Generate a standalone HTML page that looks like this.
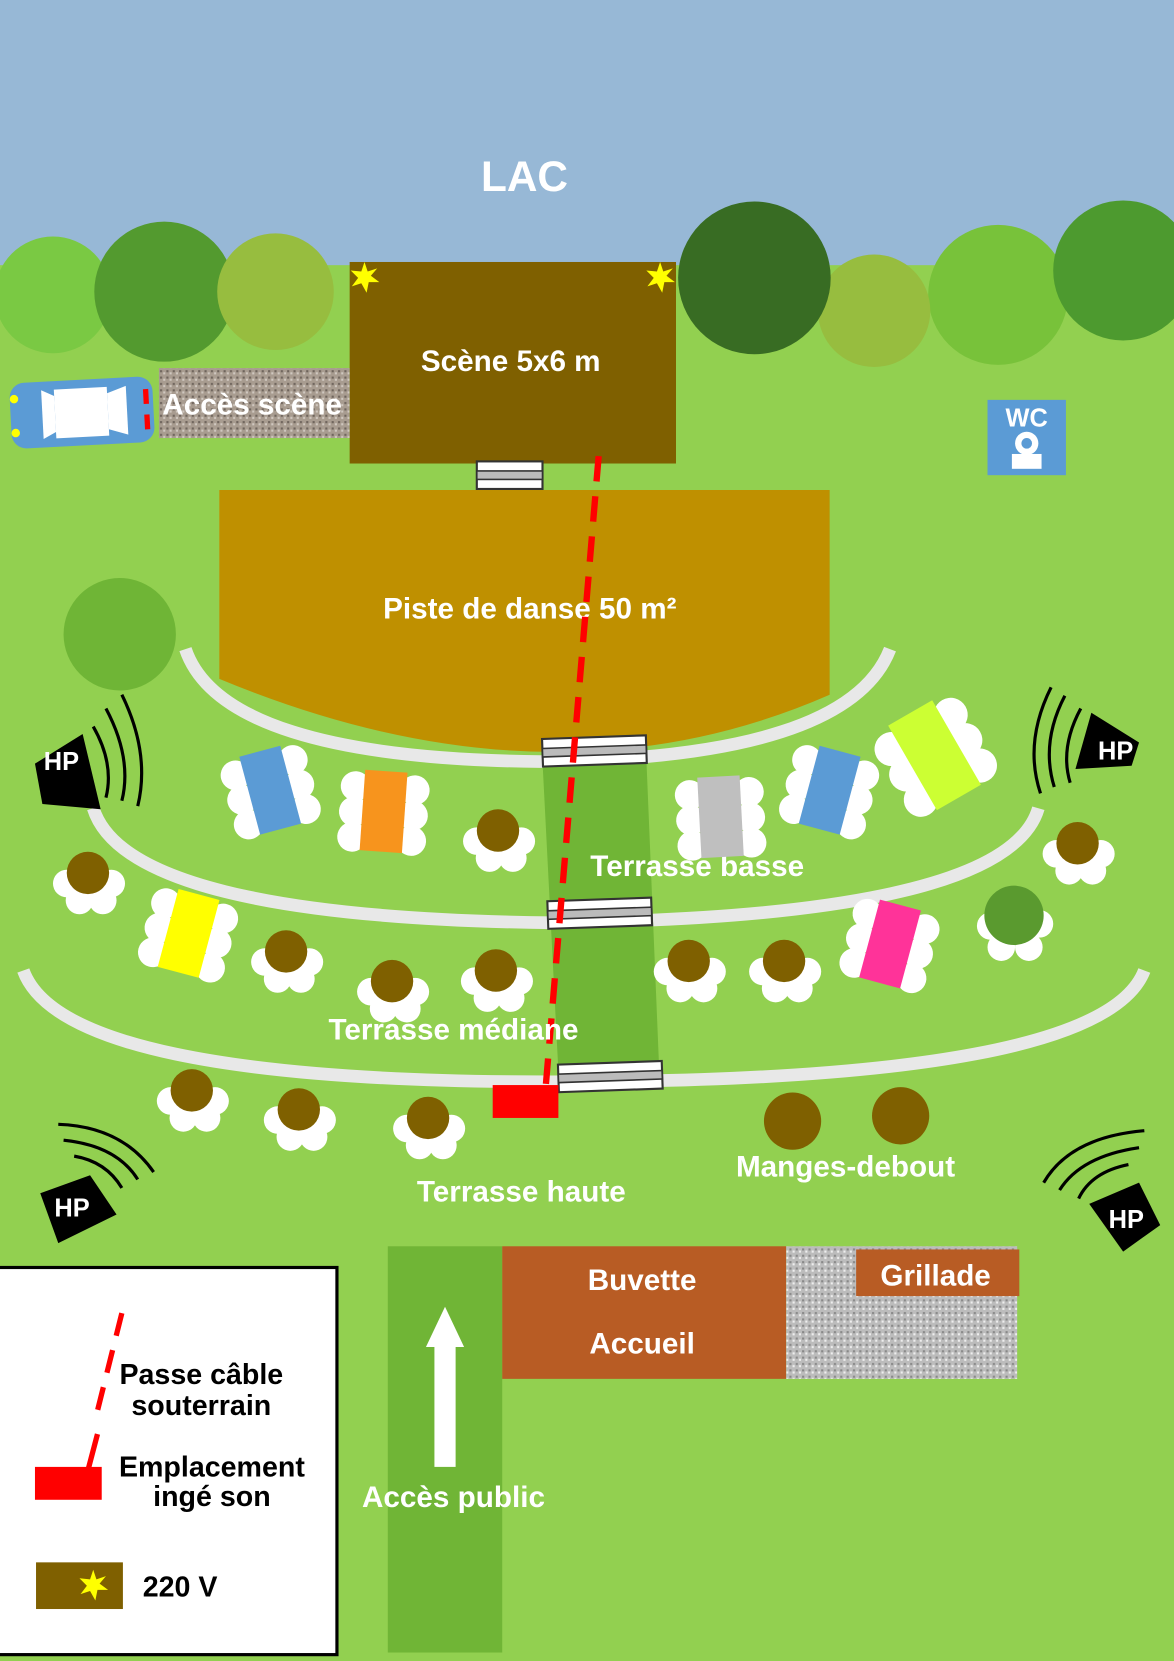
<!DOCTYPE html>
<html><head><meta charset="utf-8"><style>
html,body{margin:0;padding:0;background:#92d050}
svg{display:block}
text{font-family:"Liberation Sans",sans-serif;font-weight:bold}
</style></head><body>
<svg width="1174" height="1661" viewBox="0 0 1108 1566" preserveAspectRatio="none" xmlns="http://www.w3.org/2000/svg">
<defs>
<g id="rt"><circle cx="-20" cy="10" r="13" fill="#fff"/><circle cx="22" cy="10" r="13" fill="#fff"/><circle cx="-8" cy="26" r="13" fill="#fff"/><circle cx="14" cy="26" r="13" fill="#fff"/><circle cx="0" cy="0" r="20" fill="#7f6000"/></g>
<g id="ch"><circle cx="-28" cy="-22" r="14" fill="#fff"/><circle cx="-28" cy="2" r="14" fill="#fff"/><circle cx="-28" cy="26" r="14" fill="#fff"/><circle cx="28" cy="-22" r="14" fill="#fff"/><circle cx="28" cy="2" r="14" fill="#fff"/><circle cx="28" cy="26" r="14" fill="#fff"/></g>
<g id="br"><rect x="0" y="0" width="62" height="26" fill="#fff" stroke="#333" stroke-width="2"/><rect x="0" y="9" width="62" height="8" fill="#bbb" stroke="#333" stroke-width="1.5"/></g>
<g id="br2"><rect x="0" y="0" width="98" height="26" fill="#fff" stroke="#333" stroke-width="2"/><rect x="0" y="9" width="98" height="8" fill="#bbb" stroke="#333" stroke-width="1.5"/></g>
<pattern id="grav" width="6" height="6" patternUnits="userSpaceOnUse"><rect width="6" height="6" fill="#a89c90"/><rect x="1" y="1" width="2" height="2" fill="#6e645c"/><rect x="4" y="3" width="2" height="2" fill="#d0c8c0"/></pattern>
<pattern id="grav2" width="6" height="6" patternUnits="userSpaceOnUse"><rect width="6" height="6" fill="#bcbcbc"/><rect x="1" y="1" width="2" height="2" fill="#888"/><rect x="4" y="3" width="2" height="2" fill="#eee"/></pattern>
</defs>
<rect x="0" y="0" width="1108" height="1566" fill="#92d050"/>
<rect x="0" y="0" width="1108" height="250" fill="#97b8d6"/>
<text x="495" y="180" font-size="40" fill="#fff" text-anchor="middle">LAC</text>
<circle cx="50" cy="278" r="55" fill="#7ac943"/>
<circle cx="155" cy="275" r="66" fill="#539a2f"/>
<circle cx="260" cy="275" r="55" fill="#97bd3f"/>
<circle cx="942" cy="278" r="66" fill="#78c23a"/>
<circle cx="1060" cy="255" r="66" fill="#4d9a2f"/>
<circle cx="825" cy="293" r="53" fill="#97bd3f"/>
<circle cx="712" cy="262" r="72" fill="#386c23"/>
<rect x="330" y="247" width="308" height="190" fill="#7f6000"/>
<text x="482" y="350" font-size="28" fill="#fff" text-anchor="middle">Scène 5x6 m</text>
<polygon points="344,247 347,256 356,253 350,260 358,266 348,266 346,276 341,267 332,270 338,262 331,255 341,256" fill="#ffff00"/>
<polygon points="623,247 626,256 635,253 629,260 637,266 627,266 625,276 620,267 611,270 617,262 610,255 620,256" fill="#ffff00"/>
<rect x="150" y="347" width="180" height="66" fill="url(#grav)"/>
<text x="238" y="391" font-size="28" fill="#fff" text-anchor="middle">Accès scène</text>
<g transform="rotate(-3 77 390)"><rect x="10" y="358" width="135" height="62" rx="14" fill="#5b9bd5"/><rect x="52" y="366" width="50" height="46" fill="#fff"/><polygon points="40,366 52,372 52,406 40,412" fill="#fff"/><polygon points="102,372 120,366 120,412 102,406" fill="#fff"/><rect x="136" y="370" width="5" height="14" fill="#f00"/><rect x="136" y="394" width="5" height="14" fill="#f00"/><circle cx="14" cy="373" r="4" fill="#ff0"/><circle cx="14" cy="405" r="4" fill="#ff0"/></g>
<rect x="932" y="377" width="74" height="71" fill="#5b9bd5"/>
<text x="969" y="402" font-size="24" fill="#fff" text-anchor="middle">WC</text>
<rect x="955" y="428" width="28" height="14" fill="#fff"/><circle cx="969" cy="418" r="11" fill="#fff"/><circle cx="969" cy="418" r="5" fill="#5b9bd5"/>
<use href="#br" x="450" y="435"/>
<circle cx="113" cy="598" r="53" fill="#6fb536"/>
<path d="M207,462 H783 V655 Q520,770 207,640 Z" fill="#bf9000"/>
<text x="500" y="583" font-size="28" fill="#fff" text-anchor="middle">Piste de danse 50 m²</text>
<path d="M175,612 Q210,715 510,718 Q800,715 840,612" fill="none" stroke="#e8e8e8" stroke-width="12"/>
<path d="M88,762 Q120,865 520,870 Q950,865 980,762" fill="none" stroke="#e8e8e8" stroke-width="12"/>
<path d="M22,915 Q60,1020 520,1020 Q1040,1020 1080,915" fill="none" stroke="#e8e8e8" stroke-width="12"/>
<polygon points="512,718 610,715 622,1005 527,1010" fill="#70b536"/>
<use href="#br2" x="512" y="695" transform="rotate(-2 561 708)"/>
<use href="#br2" x="517" y="848" transform="rotate(-2 566 861)"/>
<use href="#br2" x="527" y="1002" transform="rotate(-2 576 1015)"/>
<line x1="565" y1="430" x2="515" y2="1025" stroke="#f00" stroke-width="6" stroke-dasharray="24,14"/>
<rect x="465" y="1023" width="62" height="31" fill="#f00"/>
<text x="658" y="826" font-size="28" fill="#fff" text-anchor="middle">Terrasse basse</text>
<text x="428" y="980" font-size="28" fill="#fff" text-anchor="middle">Terrasse médiane</text>
<text x="492" y="1133" font-size="28" fill="#fff" text-anchor="middle">Terrasse haute</text>
<text x="798" y="1109" font-size="28" fill="#fff" text-anchor="middle">Manges-debout</text>
<!-- tables -->
<g transform="translate(255,745) rotate(-15)"><use href="#ch"/><rect x="-20" y="-38" width="40" height="76" fill="#5b9bd5"/></g>
<g transform="translate(362,765) rotate(4)"><use href="#ch"/><rect x="-20" y="-38" width="40" height="76" fill="#f7941d"/></g>
<g transform="translate(178,880) rotate(15)"><use href="#ch"/><rect x="-20" y="-38" width="40" height="76" fill="#ffff00"/></g>
<g transform="translate(680,770) rotate(-3)"><use href="#ch"/><rect x="-20" y="-38" width="40" height="76" fill="#bfbfbf"/></g>
<g transform="translate(783,745) rotate(15)"><use href="#ch"/><rect x="-20" y="-38" width="40" height="76" fill="#5b9bd5"/></g>
<g transform="translate(882,712) rotate(-30)"><use href="#ch" transform="scale(1.15)"/><rect x="-24" y="-46" width="48" height="92" fill="#ccff33"/></g>
<g transform="translate(840,890) rotate(15)"><use href="#ch"/><rect x="-20" y="-38" width="40" height="76" fill="#ff3399"/></g>
<use href="#rt" x="470" y="783"/>
<use href="#rt" x="83" y="823"/>
<use href="#rt" x="270" y="897"/>
<use href="#rt" x="370" y="925"/>
<use href="#rt" x="468" y="915"/>
<use href="#rt" x="650" y="906"/>
<use href="#rt" x="740" y="906"/>
<use href="#rt" x="1017" y="795"/>
<use href="#rt" x="181" y="1028"/>
<use href="#rt" x="282" y="1046"/>
<use href="#rt" x="404" y="1054"/>
<g transform="translate(957,863)"><circle cx="-22" cy="10" r="13" fill="#fff"/><circle cx="24" cy="8" r="13" fill="#fff"/><circle cx="-12" cy="30" r="13" fill="#fff"/><circle cx="14" cy="30" r="13" fill="#fff"/><circle r="28" fill="#5a9a2f"/></g>
<circle cx="748" cy="1057" r="27" fill="#7f6000"/>
<circle cx="850" cy="1052" r="27" fill="#7f6000"/>
<!-- speakers -->
<g><polygon points="33,750 78,722 95,793 40,788" fill="#000" transform="translate(0,-30)"/><text x="58" y="726" font-size="24" fill="#fff" text-anchor="middle">HP</text>
<path d="M88,685 Q108,720 100,752" fill="none" stroke="#000" stroke-width="3"/><path d="M100,668 Q125,715 115,755" fill="none" stroke="#000" stroke-width="3"/><path d="M115,655 Q142,710 130,760" fill="none" stroke="#000" stroke-width="3"/></g>
<g><polygon points="1075,720 1030,692 1015,745 1068,742" fill="#000" transform="translate(0,-20)"/><text x="1053" y="716" font-size="24" fill="#fff" text-anchor="middle">HP</text>
<path d="M1020,668 Q1000,705 1010,738" fill="none" stroke="#000" stroke-width="3"/><path d="M1005,656 Q982,700 995,742" fill="none" stroke="#000" stroke-width="3"/><path d="M992,648 Q966,700 982,748" fill="none" stroke="#000" stroke-width="3"/></g>
<g><polygon points="38,1125 85,1108 110,1145 55,1172" fill="#000"/><text x="68" y="1147" font-size="24" fill="#fff" text-anchor="middle">HP</text>
<path d="M70,1090 Q100,1095 115,1120" fill="none" stroke="#000" stroke-width="3"/><path d="M60,1075 Q110,1080 130,1112" fill="none" stroke="#000" stroke-width="3"/><path d="M55,1060 Q115,1062 145,1105" fill="none" stroke="#000" stroke-width="3"/></g>
<g><polygon points="1028,1135 1075,1115 1095,1155 1060,1180" fill="#000"/><text x="1063" y="1158" font-size="24" fill="#fff" text-anchor="middle">HP</text>
<path d="M1065,1098 Q1030,1105 1018,1130" fill="none" stroke="#000" stroke-width="3"/><path d="M1075,1082 Q1020,1090 1000,1122" fill="none" stroke="#000" stroke-width="3"/><path d="M1080,1066 Q1010,1072 985,1115" fill="none" stroke="#000" stroke-width="3"/></g>
<!-- bottom -->
<rect x="366" y="1175" width="108" height="383" fill="#70b536"/>
<rect x="410" y="1268" width="20" height="115" fill="#fff"/><polygon points="402,1270 438,1270 420,1232" fill="#fff"/>
<text x="428" y="1421" font-size="28" fill="#fff" text-anchor="middle">Accès public</text>
<rect x="474" y="1175" width="268" height="125" fill="#b85c24"/>
<text x="606" y="1216" font-size="28" fill="#fff" text-anchor="middle">Buvette</text>
<text x="606" y="1276" font-size="28" fill="#fff" text-anchor="middle">Accueil</text>
<rect x="742" y="1175" width="218" height="125" fill="url(#grav2)"/>
<rect x="808" y="1178" width="154" height="44" fill="#b85c24"/>
<text x="883" y="1212" font-size="28" fill="#fff" text-anchor="middle">Grillade</text>
<!-- legend -->
<rect x="-2" y="1195" width="320" height="365" fill="#fff" stroke="#000" stroke-width="3"/>
<line x1="115" y1="1238" x2="92" y2="1330" stroke="#f00" stroke-width="5" stroke-dasharray="22,14"/>
<text x="190" y="1305" font-size="27" fill="#000" text-anchor="middle">Passe câble</text>
<text x="190" y="1334" font-size="27" fill="#000" text-anchor="middle">souterrain</text>
<line x1="92" y1="1352" x2="82" y2="1390" stroke="#f00" stroke-width="5"/>
<rect x="33" y="1383" width="63" height="31" fill="#f00"/>
<text x="200" y="1392" font-size="27" fill="#000" text-anchor="middle">Emplacement</text>
<text x="200" y="1420" font-size="27" fill="#000" text-anchor="middle">ingé son</text>
<rect x="34" y="1473" width="82" height="44" fill="#7f6000"/>
<polygon points="88,1480 91,1489 100,1486 94,1493 102,1499 92,1499 90,1509 85,1500 76,1503 82,1495 75,1488 85,1489" fill="#ffff00"/>
<text x="170" y="1505" font-size="27" fill="#000" text-anchor="middle">220 V</text>
</svg>
</body></html>
